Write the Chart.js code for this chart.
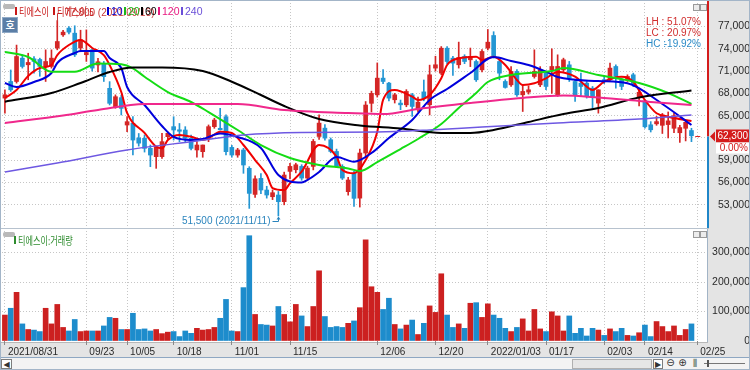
<!DOCTYPE html>
<html>
<head>
<meta charset="utf-8">
<title>티에스이</title>
<script src="https://cdn.jsdelivr.net/npm/chart.js@4.4.1/dist/chart.umd.min.js"></script>
<style>
  html, body { margin: 0; padding: 0; background: #fff; }
  #wrap { position: relative; width: 750px; height: 370px; overflow: hidden; background: #fff; }
  #wrap canvas { position: absolute; left: 0; top: 0; }
  .pill { position: absolute; background: #b9b9b9; border-radius: 2px; }
  .ico { position: absolute; width: 5px; height: 5px; border: 1px solid #9a9a9a; background: #ececec; }
  .lg { position: absolute; white-space: nowrap; font: 11px 'Noto Sans CJK KR', 'Liberation Sans', sans-serif; line-height: 12px; }
  .lg i { position: absolute; left: 0; top: 2px; width: 2px; height: 8px; }
  .lg span { position: absolute; left: 4px; top: 0; white-space: nowrap; }
  .num span { font-family: 'Liberation Sans', sans-serif; font-size: 10.5px; }
  .kr { transform: scaleX(0.74); transform-origin: 0 50%; }
  #ho { position: absolute; left: 2px; top: 17px; width: 14px; height: 14px; background: #5b7ea6; border: 1px solid #8fa9c6;
        color: #fff; font: bold 10px 'Noto Sans CJK KR', sans-serif; line-height: 14px; text-align: center; }
  #sep { position: absolute; left: 0; top: 228px; width: 709px; height: 1px; background: #b7c2ce; }
  #frame { position: absolute; left: 0; top: 0; width: 748px; height: 368px; border: 1px solid #a3b5c8; pointer-events: none; }
  #bar { position: absolute; left: 0; top: 357px; width: 750px; height: 13px; background: #f3f3f3; border-top: 1px solid #8ea7c2; box-sizing: border-box; }
  #bar div { position: absolute; box-sizing: border-box; font: 8px 'DejaVu Sans', sans-serif; color: #333; text-align: center; line-height: 10px; }
</style>
</head>
<body>
<div id="wrap">
  <canvas id="price" width="750" height="229"></canvas>
  <canvas id="volume" width="750" height="128" style="top:229px"></canvas>

  <div class="pill" style="left:3px;top:4px;width:12px;height:5px"></div>
  <div id="ho">호</div>
  <div id="legend"></div>
  <div class="ico" style="left:693px;top:4px"></div>
  <div class="ico" style="left:700px;top:4px"></div>

  <div id="sep"></div>
  <div class="pill" style="left:3px;top:232px;width:12px;height:5px"></div>
  <div id="volLegend"></div>
  <div class="ico" style="left:693px;top:231px"></div>
  <div class="ico" style="left:700px;top:231px"></div>

  <div id="bar">
    <div style="left:1px;top:1px;width:11px;height:10px;border:1px solid #7d7d7d;background:#fff">◀</div>
    <div style="left:572px;top:1px;width:80px;height:10px;border:1px solid #b0b0b0;background:#e6e6e6"></div>
    <div style="left:653px;top:1px;width:10px;height:10px;border:1px solid #7d7d7d;background:#fff">▶</div>
    <div style="left:665px;top:0;width:11px;height:11px;font-size:10px">⊖</div>
    <div style="left:677px;top:0;width:11px;height:11px;font-size:10px">⊕</div>
    <div style="left:689px;top:0;width:11px;height:11px;font-size:9px">⫼</div>
    <div style="left:704px;top:5px;width:41px;height:1px;background:#777"></div>
    <div style="left:707px;top:2px;width:2px;height:7px;background:#555"></div>
  </div>
  <div id="frame"></div>
</div>

<script>
// ---------- data ----------
const stockName = '티에스이';

const sessions = {
  '2021/08': [31],
  '2021/09': [1, 2, 3, 6, 7, 8, 9, 10, 13, 14, 15, 16, 17, 23, 24, 27, 28, 29, 30],
  '2021/10': [1, 5, 6, 7, 8, 12, 13, 14, 15, 18, 19, 20, 21, 22, 25, 26, 27, 28, 29],
  '2021/11': [1, 2, 3, 4, 5, 8, 9, 10, 11, 12, 15, 16, 17, 18, 19, 22, 23, 24, 25, 26, 29, 30],
  '2021/12': [1, 2, 3, 6, 7, 8, 9, 10, 13, 14, 15, 16, 17, 20, 21, 22, 23, 24, 27, 28, 29, 30],
  '2022/01': [3, 4, 5, 6, 7, 10, 11, 12, 13, 14, 17, 18, 19, 20, 21, 24, 25, 26, 27, 28],
  '2022/02': [3, 4, 7, 8, 9, 10, 11, 14, 15, 16, 17, 18, 21, 22, 23, 24, 25, 28]
};
const days = [];
Object.keys(sessions).forEach(m => sessions[m].forEach(d => days.push(m + '/' + String(d).padStart(2, '0'))));

const tickDates = ['2021/08/31', '2021/09/23', '2021/10/05', '2021/10/18', '2021/11/01', '2021/11/15', '2021/12/06',
                   '2021/12/20', '2022/01/03', '2022/01/17', '2022/02/03', '2022/02/14', '2022/02/25'];
const tickText  = ['2021/08/31', '09/23', '10/05', '10/18', '11/01', '11/15', '12/06',
                   '12/20', '2022/01/03', '01/17', '02/03', '02/14', '02/25'];

const open = [
  67360, 69600, 69600, 72740, 71850, 72650, 72560, 71620, 71620, 74090,
  75880, 76780, 76100, 74100, 73200, 73860, 71820, 71950, 68680, 66200,
  67420, 63740, 63970, 62000, 61950, 60600, 59480, 59480, 62170, 63520,
  63100, 63070, 61950, 60380, 60150, 61950, 63520, 63300, 64860, 60730,
  59700, 60380, 57910, 54400, 56560, 54990, 54090, 54320, 53420, 57500,
  57720, 58170, 56600, 58170, 62200, 63320, 61760, 60180, 58170, 54770,
  57240, 53900, 59970, 66660, 67800, 70050, 69380, 67140, 66690, 66460,
  67810, 65790, 68200, 66460, 71400, 70720, 74080, 72740, 71850, 72970,
  72520, 72290, 71170, 74090, 75790, 72290, 69600, 69150, 70950, 67810,
  68170, 70270, 69150, 70720, 71170, 67810, 71170, 71840, 69600, 69380,
  69380, 68700, 66690, 69850, 69830, 71620, 69830, 69830, 70500, 67500,
  67000, 63770, 63900, 63700, 63800, 63300, 62700, 63300, 63000
];
const high = [
  68480, 71150, 74500, 73190, 73400, 72960, 72740, 73860, 73860, 77800,
  76500, 77000, 77100, 76500, 76550, 74000, 72700, 72300, 69580, 67800,
  67780, 64860, 64860, 62600, 62400, 61050, 60900, 62620, 62800, 64860,
  63950, 63520, 62400, 61500, 61050, 63750, 64650, 65990, 65100, 61000,
  60600, 60600, 58130, 56900, 57200, 55500, 55000, 54800, 57400, 58600,
  58600, 58400, 58200, 61800, 65120, 63800, 62000, 60500, 58400, 56700,
  57500, 60500, 66900, 68300, 72100, 71200, 69500, 68000, 67100, 68500,
  68000, 67500, 69800, 71800, 73000, 74300, 74300, 73000, 74900, 73200,
  74100, 72500, 73900, 76600, 76300, 72700, 69830, 71620, 71200, 69150,
  69000, 73860, 71600, 71000, 74000, 73190, 72740, 72300, 69830, 70720,
  69600, 68930, 68480, 70300, 72070, 71840, 70050, 70500, 70720, 68400,
  67100, 64200, 64900, 65300, 65500, 65300, 63700, 64300, 63300
];
const low = [
  65340, 68260, 69380, 71400, 69830, 70720, 70300, 69600, 71400, 73860,
  75650, 76000, 72960, 73600, 72300, 71000, 70900, 69600, 66440, 66000,
  65090, 62840, 59700, 60900, 60100, 58130, 57910, 59250, 61900, 61720,
  61500, 61500, 60380, 59400, 59400, 61500, 63300, 63070, 59700, 59400,
  59400, 57240, 52520, 54000, 54500, 53900, 53700, 51500, 53000, 56500,
  57300, 56300, 56300, 57700, 61800, 61700, 60000, 58000, 56400, 54300,
  52790, 52700, 59500, 65500, 67500, 69300, 67000, 66700, 65800, 66200,
  64900, 65500, 67000, 65100, 71000, 70500, 72000, 70400, 71400, 72000,
  71600, 69600, 70900, 73850, 72750, 69830, 68700, 68930, 67600, 65560,
  67900, 70050, 68900, 68500, 68000, 67600, 70950, 69600, 66910, 67590,
  67360, 66010, 65340, 69300, 69600, 68700, 68500, 69600, 68900, 66300,
  63300, 62800, 63700, 62600, 62000, 62700, 61400, 61600, 61500
];
const close = [
  67810, 68480, 72960, 71620, 72160, 72290, 71620, 72290, 72740, 74980,
  76240, 76240, 73190, 75200, 73500, 71400, 72260, 70250, 66660, 67550,
  65980, 64190, 61720, 61300, 60600, 59700, 60830, 61500, 62620, 63070,
  62900, 61950, 60600, 61050, 61050, 63520, 64410, 63100, 60150, 59700,
  60380, 58360, 54540, 56500, 54990, 54320, 54630, 53420, 57010, 58170,
  58390, 56600, 57940, 61530, 64000, 61980, 60180, 58170, 56600, 56340,
  53870, 59970, 66430, 68000, 70050, 69600, 67360, 67810, 66460, 68260,
  66240, 66820, 67300, 70500, 71850, 74080, 72290, 72070, 72830, 72290,
  72970, 69830, 73640, 74890, 72970, 70720, 68800, 70950, 67810, 68260,
  68480, 70950, 71170, 68930, 71620, 71620, 72520, 70050, 67810, 68930,
  67590, 67590, 68480, 69600, 71400, 70280, 68930, 70280, 69150, 68150,
  63500, 63100, 64200, 65100, 64300, 65000, 63400, 64100, 62300
];
const volume = [
  88000, 111000, 165000, 58000, 39000, 37000, 32000, 111000, 58000, 124000,
  46000, 34000, 73000, 32000, 34000, 34000, 34000, 51000, 80000, 77000,
  39000, 39000, 94000, 39000, 41000, 34000, 39000, 25000, 30000, 32000,
  15000, 34000, 26000, 43000, 37000, 39000, 46000, 77000, 141000, 34000,
  32000, 181000, 357000, 90000, 56000, 54000, 51000, 117000, 90000, 65000,
  124000, 85000, 49000, 117000, 238000, 83000, 46000, 49000, 46000, 60000,
  68000, 113000, 343000, 184000, 165000, 107000, 145000, 56000, 41000, 54000,
  71000, 22000, 60000, 119000, 97000, 228000, 88000, 46000, 58000, 43000,
  128000, 130000, 80000, 126000, 88000, 77000, 43000, 32000, 46000, 75000,
  34000, 107000, 41000, 32000, 99000, 85000, 34000, 85000, 26000, 43000,
  17000, 43000, 37000, 19000, 41000, 32000, 43000, 19000, 17000, 28000,
  54000, 15000, 66000, 49000, 32000, 51000, 19000, 39000, 58000
];

// moving averages: [session index, value]
const maPeriods = [5, 10, 20, 60, 120, 240];
const ma5 = [[0,67380],[2,68450],[4,70340],[6,71410],[8,71820],[9,73160],[11,74510],[13,75180],[15,74110],[17,73160],
  [18,71820],[20,68180],[21,65360],[24,62670],[26,60820],[27,60600],[28,61720],[30,62400],[32,62170],[34,61720],
  [35,61950],[37,62840],[39,62670],[41,61050],[43,59030],[45,57010],[46,55260],[48,54990],[49,55900],[51,57460],
  [54,61050],[57,59480],[58,57690],[60,57240],[62,59030],[64,62840],[65,67110],[67,68450],[70,67550],[71,67110],
  [73,67780],[75,70030],[76,71820],[78,72720],[81,72940],[82,72490],[84,72940],[86,71820],[88,69800],[89,69130],
  [91,69360],[93,70030],[95,70880],[98,70240],[100,68900],[101,68450],[103,69570],[106,70240],[108,69570],[110,67110],
  [112,65320],[114,64860],[118,64280]];
const ma10 = [[0,69400],[2,68860],[5,69530],[8,70740],[9,72090],[12,73430],[13,73700],[17,73700],[18,72760],[20,71410],
  [21,68860],[24,66430],[27,63610],[29,62130],[32,61720],[34,61860],[37,62600],[40,62130],[44,60650],[47,57010],
  [51,56000],[52,56340],[54,57420],[57,59440],[60,58800],[63,59970],[66,61990],[70,64420],[73,67110],[76,68590],
  [80,70740],[84,72900],[87,72360],[90,71820],[93,70920],[95,70200],[102,69660],[107,69360],[113,66570],[118,63740]];
const ma20 = [[0,73570],[4,72900],[8,70920],[12,70920],[16,72020],[20,71910],[22,71370],[24,70240],[28,68180],[32,66840],
  [35,65490],[40,63070],[44,61050],[49,59300],[54,58360],[59,57890],[61,57550],[64,58760],[68,60510],[71,61860],
  [75,63880],[78,66030],[81,68050],[83,69530],[87,70470],[94,71010],[96,71410],[102,70470],[109,69400],[114,68050],[118,66570]];
const ma60 = [[0,66880],[8,68050],[13,69400],[18,70880],[22,71480],[27,71480],[34,71010],[39,69570],[44,67780],[48,66300],
  [54,64550],[61,63680],[68,63270],[75,62670],[80,62670],[84,63070],[90,64150],[96,65220],[102,66030],[109,67440],[118,68390]];
const ma120 = [[0,64010],[10,65020],[16,65760],[24,66570],[40,66570],[48,65760],[59,65360],[65,65220],[71,65900],[80,66700],
  [89,67380],[96,67710],[102,67440],[111,66840],[118,66430]];
const ma240 = [[0,57420],[9,58630],[21,60380],[33,61590],[41,62400],[51,62730],[64,62800],[73,63070],[82,63470],[95,64010],
  [109,64550],[118,65090]];

const priceTicks = [53000, 56000, 59000, 62000, 65000, 68000, 71000, 74000, 77000];
const volTicks = [0, 100000, 200000, 300000];

// ---------- styling ----------
const UP = '#d42626', DOWN = '#2396d3';
const maColors = ['#f00000', '#0000dc', '#14dc14', '#000000', '#f0288c', '#6e58e2'];
const maWidths = [2, 2, 2, 2, 2, 1.5];
const gridColor = '#c6c6c6';
const axisFont = "'Liberation Sans', sans-serif";
const fmt = v => v.toLocaleString('en-US');
const isTick = i => tickDates.includes(days[i]);

const rising = close.map((c, i) => c >= open[i]);
const candleColor = rising.map(r => r ? UP : DOWN);

function sparse(points) {
  const arr = days.map(() => null);
  points.forEach(([i, v]) => { arr[i] = v; });
  return arr;
}

const maLines = [ma5, ma10, ma20, ma60, ma120, ma240].map((pts, k) => ({
  type: 'line',
  label: 'MA' + maPeriods[k],
  data: sparse(pts),
  borderColor: maColors[k],
  borderWidth: maWidths[k],
  pointRadius: 0,
  spanGaps: true,
  cubicInterpolationMode: 'monotone',
  order: 6 - k
}));

// fixed plot geometry: no extra label padding around the axes
function fitY(s) { s.width = 44; s.paddingTop = 0; s.paddingBottom = 0; }

// ---------- legends ----------
const legendItems = [
  [stockName, '#c81818', true], [stockName + ':' + maPeriods[0], '#c81818', true],
  [String(maPeriods[1]), '#0000d0', false], [String(maPeriods[2]), '#1ab81a', false],
  [String(maPeriods[3]), '#000', false], [String(maPeriods[4]), '#e81a80', false], [String(maPeriods[5]), '#6a4fd8', false]
];
const legendLeft = [15, 53, 107, 124, 141, 158, 181];
document.getElementById('legend').innerHTML = legendItems.map(([t, c, kr], n) =>
  `<div class="lg ${kr ? '' : 'num'}" style="left:${legendLeft[n]}px;top:5px;color:${c}"><i style="background:${c}"></i><span class="${kr ? 'kr' : ''}">${t}</span></div>`
).join('');
document.getElementById('volLegend').innerHTML =
  `<div class="lg" style="left:14px;top:234px;color:#2e8c2e"><i style="background:#2e8c2e"></i><span class="kr">${stockName}:거래량</span></div>`;

// ---------- plugins ----------
const priceMarks = {
  id: 'priceMarks',
  beforeDraw(chart) {
    const { ctx, chartArea: a, width, height } = chart;
    ctx.save();
    ctx.fillStyle = '#e4e4e4';
    ctx.fillRect(a.right + 3, 0, width - a.right - 3, height);
    ctx.restore();
  },
  afterDraw(chart) {
    const { ctx, chartArea: a, scales: { x, y } } = chart;
    const last = close[close.length - 1];
    const yp = Math.round(y.getPixelForValue(last)) + 0.5;
    const rx = a.right + 2;
    ctx.save();

    ctx.lineWidth = 2;
    ctx.strokeStyle = '#d41c1c';
    ctx.beginPath(); ctx.moveTo(rx, 0); ctx.lineTo(rx, yp); ctx.stroke();
    ctx.strokeStyle = '#1f86c8';
    ctx.beginPath(); ctx.moveTo(rx, yp); ctx.lineTo(rx, a.bottom); ctx.stroke();

    const xs = x.getPixelForValue(close.length);
    ctx.lineWidth = 1; ctx.strokeStyle = '#e02020';
    ctx.beginPath(); ctx.moveTo(xs - 2, yp); ctx.lineTo(xs + 3, yp); ctx.stroke();

    ctx.fillStyle = '#d41c1c';
    ctx.beginPath(); ctx.moveTo(rx + 2, yp); ctx.lineTo(rx + 7, yp - 5); ctx.lineTo(rx + 7, yp + 5); ctx.closePath(); ctx.fill();
    ctx.fillRect(rx + 8, yp - 7, 34, 13);
    ctx.fillStyle = '#fff';
    ctx.fillRect(rx + 8, yp + 6, 34, 11);
    ctx.font = `10px ${axisFont}`;
    ctx.textAlign = 'right'; ctx.textBaseline = 'middle';
    ctx.fillText(fmt(last), rx + 40, yp);
    ctx.fillStyle = '#d41c1c';
    ctx.fillText('0.00%', rx + 40, yp + 12);

    const hi = high.indexOf(Math.max(...high));
    const lo = low.indexOf(Math.min(...low));
    const hx = Math.round(x.getPixelForValue(hi)) + 0.5, hy = Math.round(y.getPixelForValue(high[hi])) + 0.5;
    ctx.strokeStyle = '#c83838'; ctx.fillStyle = '#c83838';
    ctx.beginPath(); ctx.moveTo(hx, hy); ctx.lineTo(hx, hy - 8); ctx.lineTo(hx + 5, hy - 8); ctx.stroke();
    ctx.textAlign = 'left';
    ctx.fillText(`${fmt(high[hi])} (${days[hi]})`, hx + 7, hy - 8);

    const lx = Math.round(x.getPixelForValue(lo)) + 0.5, ly = Math.round(y.getPixelForValue(low[lo])) + 0.5;
    ctx.strokeStyle = '#2a84bd'; ctx.fillStyle = '#2a84bd';
    ctx.beginPath(); ctx.moveTo(lx, ly + 1); ctx.lineTo(lx, ly + 5); ctx.lineTo(lx - 6, ly + 5); ctx.stroke();
    ctx.beginPath(); ctx.moveTo(lx, ly); ctx.lineTo(lx - 2, ly + 3); ctx.lineTo(lx + 2, ly + 3); ctx.closePath(); ctx.fill();
    ctx.textAlign = 'right';
    ctx.fillText(`${fmt(low[lo])} (${days[lo]})`, lx - 8, ly + 5);

    const rows = [
      ['LH', (high[hi] / low[lo] - 1) * 100, '#d02c2c'],
      ['LC', (last / low[lo] - 1) * 100, '#d02c2c'],
      ['HC', (last / high[hi] - 1) * 100, '#2a8ac6']
    ];
    rows.forEach(([k, v, c], n) => {
      const ty = a.top + 19 + n * 11;
      ctx.fillStyle = c;
      ctx.textAlign = 'left'; ctx.fillText(k + ' :', a.right - 60, ty);
      ctx.textAlign = 'right'; ctx.fillText(v.toFixed(2) + '%', a.right - 5, ty);
    });
    ctx.restore();
  }
};

const volMarks = {
  id: 'volMarks',
  beforeDraw(chart) {
    const { ctx, chartArea: a, width, height } = chart;
    ctx.save();
    ctx.fillStyle = '#e4e4e4';
    ctx.fillRect(a.right + 2, 0, width - a.right - 2, height);
    ctx.fillRect(0, a.bottom + 1, width, height - a.bottom - 1);
    ctx.fillStyle = '#a2b4c6';
    ctx.fillRect(a.right + 1, 0, 1, a.bottom + 1);
    ctx.fillStyle = '#b8b8b8';
    ctx.fillRect(0, a.bottom + 1, a.right + 2, 1);
    ctx.restore();
  }
};

// ---------- charts ----------
Chart.defaults.font.family = axisFont;
Chart.defaults.color = '#333';

new Chart(document.getElementById('price'), {
  type: 'bar',
  data: {
    labels: days,
    datasets: [
      ...maLines,
      { label: 'body', data: open.map((o, i) => [o, close[i]]), backgroundColor: candleColor,
        barThickness: 4, minBarLength: 1, grouped: false, order: 20 },
      { label: 'wick', data: low.map((l, i) => [l, high[i]]), backgroundColor: candleColor,
        barThickness: 1, grouped: false, order: 21 }
    ]
  },
  options: {
    responsive: false, animation: false, devicePixelRatio: 1,
    layout: { padding: { left: 2, top: 3, right: 0, bottom: 1 } },
    plugins: { legend: { display: false }, tooltip: { enabled: false } },
    scales: {
      x: {
        offset: true,
        afterFit: s => { s.height = 0; s.paddingLeft = 0; s.paddingRight = 0; },
        ticks: { display: false },
        grid: { offset: false, drawTicks: false, color: c => isTick(c.index) ? gridColor : 'rgba(0,0,0,0)' },
        border: { display: false, dash: [1, 2] }
      },
      y: {
        position: 'right', min: 49880, max: 80163,
        afterBuildTicks: s => { s.ticks = priceTicks.map(v => ({ value: v })); },
        afterFit: fitY,
        ticks: { crossAlign: 'far', padding: 12, color: '#2a2a2a', font: { size: 10.5 }, callback: v => fmt(v) },
        grid: { drawTicks: false, color: gridColor },
        border: { display: false, dash: [1, 2] }
      }
    }
  },
  plugins: [priceMarks]
});

new Chart(document.getElementById('volume'), {
  type: 'bar',
  data: {
    labels: days,
    datasets: [{ label: '거래량', data: volume, backgroundColor: rising.map(r => r ? '#cc2020' : '#1d8ccc'), barThickness: 5 }]
  },
  options: {
    responsive: false, animation: false, devicePixelRatio: 1,
    layout: { padding: { left: 2, top: 2, right: 0, bottom: 0 } },
    plugins: { legend: { display: false }, tooltip: { enabled: false } },
    scales: {
      x: {
        offset: true,
        afterFit: s => { s.height = 16; s.paddingLeft = 0; s.paddingRight = 0; },
        ticks: {
          autoSkip: false, maxRotation: 0, minRotation: 0, align: 'start', labelOffset: 3, padding: 1,
          color: '#2a2a2a', font: { size: 10 },
          callback: (v, i) => { const k = tickDates.indexOf(days[i]); return k < 0 ? '' : tickText[k]; }
        },
        grid: {
          offset: false, drawTicks: true, tickLength: 4,
          color: c => isTick(c.index) ? gridColor : 'rgba(0,0,0,0)',
          tickColor: c => isTick(c.index) ? '#8a8a8a' : 'rgba(0,0,0,0)'
        },
        border: { display: false, dash: [1, 2] }
      },
      y: {
        position: 'right', min: 0, max: 373000,
        afterBuildTicks: s => { s.ticks = volTicks.map(v => ({ value: v })); },
        afterFit: fitY,
        ticks: { crossAlign: 'far', padding: 5, color: '#2a2a2a', font: { size: 10.5 }, callback: v => fmt(v) },
        grid: { drawTicks: false, color: c => c.tick && c.tick.value === 0 ? 'rgba(0,0,0,0)' : gridColor },
        border: { display: false, dash: [1, 2] }
      }
    }
  },
  plugins: [volMarks]
});
</script>
</body>
</html>
